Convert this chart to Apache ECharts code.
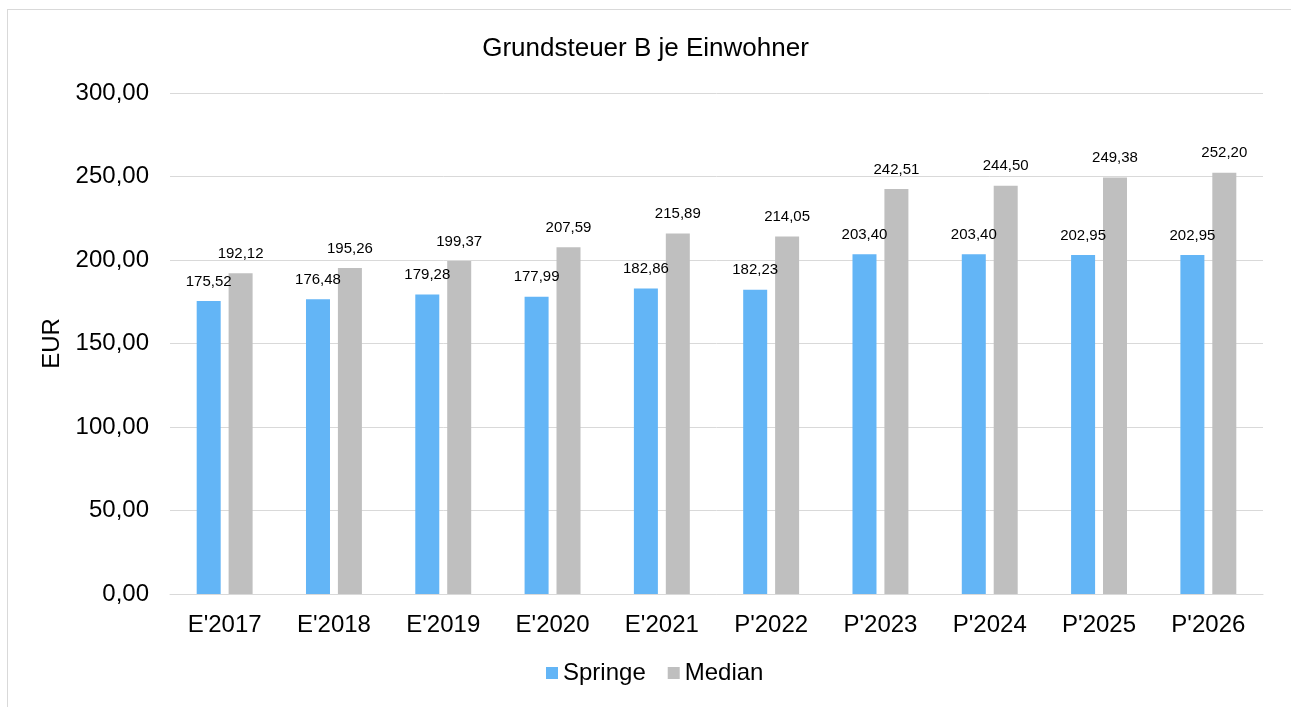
<!DOCTYPE html>
<html>
<head>
<meta charset="utf-8">
<script src="https://cdn.jsdelivr.net/npm/echarts@6/dist/echarts.min.js"></script>
<style>
  html, body { margin: 0; padding: 0; background: #fff; }
  #frame { position: absolute; left: 7px; top: 9px; width: 1400px; height: 800px; border: 1px solid #d9d9d9; }
  #chart { position: absolute; left: 0; top: 0; width: 1291px; height: 707px; }
</style>
</head>
<body>
<div id="frame"></div>
<div id="chart"></div>
<script>
let categories = ["E'2017", "E'2018", "E'2019", "E'2020", "E'2021", "P'2022", "P'2023", "P'2024", "P'2025", "P'2026"];
let springe = [175.52, 176.48, 179.28, 177.99, 182.86, 182.23, 203.40, 203.40, 202.95, 202.95];
let median = [192.12, 195.26, 199.37, 207.59, 215.89, 214.05, 242.51, 244.50, 249.38, 252.20];

let fontName = '"Liberation Sans", Arial, sans-serif';

function fmt(v){
    return v.toFixed(2).replace('.', ',');   // deutsches Dezimalkomma
}

let chart = echarts.init(document.getElementById('chart'));
let option = {
    animation: false,
    textStyle: { fontFamily: fontName },
    title: {
        text: 'Grundsteuer B je Einwohner',
        left: 'center',
        top: 31,
        textStyle: { fontFamily: fontName, fontSize: 26, fontWeight: 'normal', color: '#000' }
    },
    legend: {
        bottom: 17,
        left: 541,
        itemWidth: 12,
        itemHeight: 12,
        itemGap: 22,
        icon: 'rect',
        textStyle: { fontFamily: fontName, fontSize: 24, color: '#000' },
        data: ['Springe', 'Median']
    },
    grid: {
        left: 170,
        right: 28,
        top: 93,
        bottom: 113,
        containLabel: false
    },
    xAxis: {
        type: 'category',
        data: categories,
        axisTick: { show: false },
        axisLine: { lineStyle: { color: '#d9d9d9', width: 1 } },
        axisLabel: { color: '#000', fontSize: 24, margin: 19, fontFamily: fontName }
    },
    yAxis: {
        type: 'value',
        min: 0,
        max: 300,
        interval: 50,
        name: 'EUR',
        nameLocation: 'center',
        nameGap: 105,
        nameRotate: 90,
        nameTextStyle: { color: '#000', fontSize: 24, fontFamily: fontName },
        axisLine: { show: false },
        axisTick: { show: false },
        axisLabel: {
            color: '#000', fontSize: 24, margin: 21, fontFamily: fontName,
            formatter: function(v){ return fmt(v); }
        },
        splitLine: { lineStyle: { color: '#d9d9d9', width: 1 } }
    },
    series: [
        {
            name: 'Springe',
            type: 'bar',
            data: springe,
            barWidth: 24,
            barGap: '33%',
            itemStyle: { color: '#63b5f6' },
            label: {
                show: true, position: 'top', distance: 12,
                color: '#000', fontSize: 15, fontFamily: fontName,
                formatter: function(p){ return fmt(p.value); }
            }
        },
        {
            name: 'Median',
            type: 'bar',
            data: median,
            barWidth: 24,
            itemStyle: { color: '#bfbfbf' },
            label: {
                show: true, position: 'top', distance: 12,
                color: '#000', fontSize: 15, fontFamily: fontName,
                formatter: function(p){ return fmt(p.value); }
            }
        }
    ]
};
chart.setOption(option);
</script>
</body>
</html>
